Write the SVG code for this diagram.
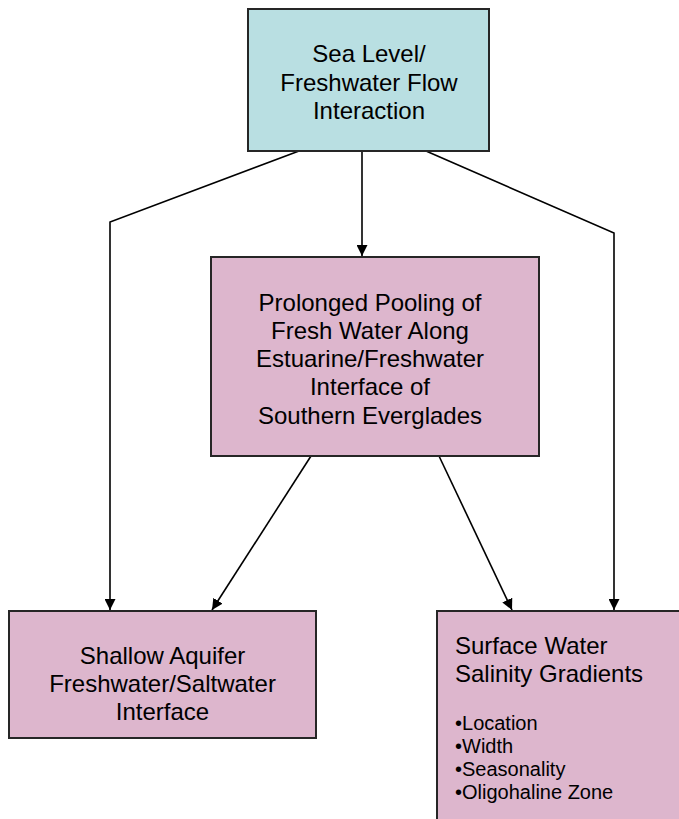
<svg xmlns="http://www.w3.org/2000/svg" width="679" height="819" viewBox="0 0 679 819">
<style>
  .box { stroke: #262626; stroke-width: 2; }
  .teal { fill: #b9dfe2; }
  .pink { fill: #ddb6cd; }
  .t { font-family: "Liberation Sans", Arial, sans-serif; font-size: 24px; fill: #000; }
  .c { text-anchor: middle; }
  .b { font-family: "Liberation Sans", Arial, sans-serif; font-size: 20px; fill: #000; }
  .ln { fill: none; stroke: #000; stroke-width: 1.6; }
</style>
<defs>
  <marker id="arr" viewBox="0 0 12 12" refX="12" refY="6" markerWidth="11" markerHeight="11" markerUnits="userSpaceOnUse" orient="auto">
    <path d="M0,0 L12,6 L0,12 z" fill="#000"/>
  </marker>
</defs>
<g id="connectors">
  <path class="ln" d="M299,151 L110,222 L110,610" marker-end="url(#arr)"/>
  <path class="ln" d="M362,151 L362,256" marker-end="url(#arr)"/>
  <path class="ln" d="M426,151 L614,233 L614,610" marker-end="url(#arr)"/>
  <path class="ln" d="M311,456 L212,610" marker-end="url(#arr)"/>
  <path class="ln" d="M439,456 L512,610" marker-end="url(#arr)"/>
</g>
<g id="sea-level">
  <rect class="box teal" x="248" y="9" width="241" height="142"/>
  <text class="t c" x="369" y="62">Sea Level/</text>
  <text class="t c" x="369" y="91">Freshwater Flow</text>
  <text class="t c" x="369" y="119">Interaction</text>
</g>
<g id="pooling">
  <rect class="box pink" x="211" y="257" width="328" height="199"/>
  <text class="t c" x="370" y="311">Prolonged Pooling of</text>
  <text class="t c" x="370" y="339">Fresh Water Along</text>
  <text class="t c" x="370" y="367">Estuarine/Freshwater</text>
  <text class="t c" x="370" y="395">Interface of</text>
  <text class="t c" x="370" y="424">Southern Everglades</text>
</g>
<g id="aquifer">
  <rect class="box pink" x="9" y="611" width="307" height="127"/>
  <text class="t c" x="162.5" y="664">Shallow Aquifer</text>
  <text class="t c" x="162.5" y="692">Freshwater/Saltwater</text>
  <text class="t c" x="162.5" y="720">Interface</text>
</g>
<g id="salinity">
  <rect class="box pink" x="437" y="611" width="260" height="230"/>
  <text class="t" x="455" y="654">Surface Water</text>
  <text class="t" x="455" y="682">Salinity Gradients</text>
  <text class="b" x="455" y="730">•Location</text>
  <text class="b" x="455" y="753">•Width</text>
  <text class="b" x="455" y="776">•Seasonality</text>
  <text class="b" x="455" y="799">•Oligohaline Zone</text>
</g>
</svg>
